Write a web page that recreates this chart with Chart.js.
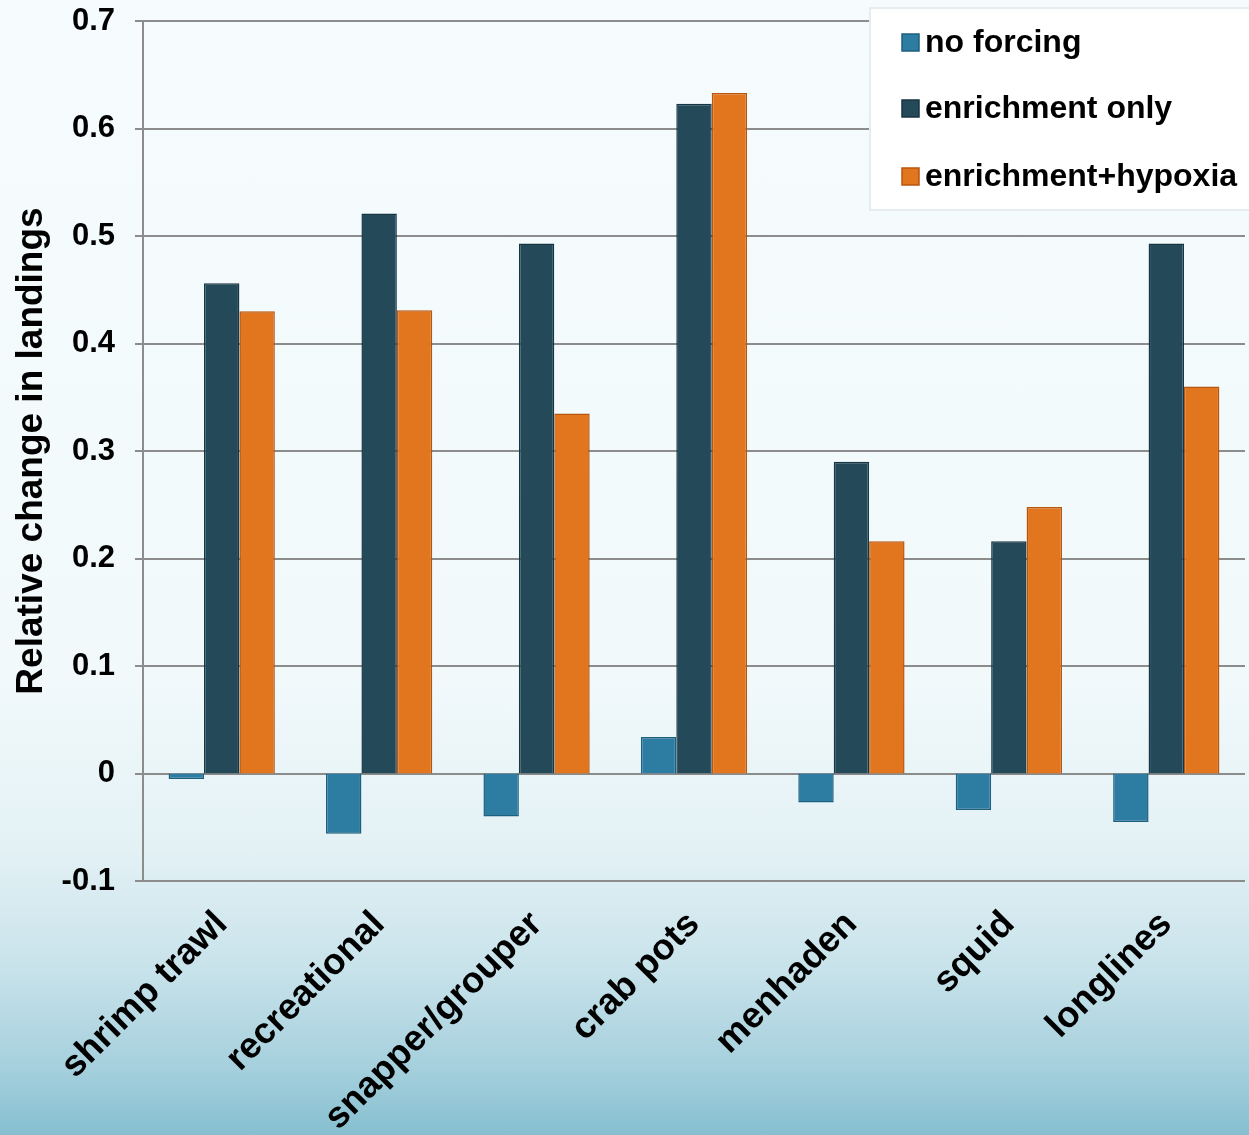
<!DOCTYPE html>
<html>
<head>
<meta charset="utf-8">
<title>Relative change in landings</title>
<script src="https://cdn.jsdelivr.net/npm/chart.js@4/dist/chart.umd.min.js"></script>
<style>
  html, body { margin: 0; padding: 0; }
  body {
    width: 1249px; height: 1135px; overflow: hidden;
    background: linear-gradient(to bottom,
      #f6fcfe 0%, #f1f9fb 60%, #e3f1f5 75%, #c9e3eb 85%, #a6d0dd 94%, #86bfd0 100%);
  }
  #wrap { position: relative; width: 1249px; height: 1135px; }
</style>
</head>
<body>
<div id="wrap"><canvas id="chart"></canvas></div>
<script>
// Fishery categories along the x axis
const categories = ['shrimp trawl', 'recreational', 'snapper/grouper', 'crab pots', 'menhaden', 'squid', 'longlines'];

// Relative change in landings for each scenario
const noForcing        = [-0.005, -0.056, -0.040, 0.034, -0.027, -0.034, -0.045];
const enrichmentOnly   = [0.456, 0.521, 0.493, 0.623, 0.290, 0.216, 0.493];
const enrichmentHypoxia= [0.430, 0.431, 0.335, 0.633, 0.216, 0.248, 0.360];

const seriesNames = ['no forcing', 'enrichment only', 'enrichment+hypoxia'];

// Y axis tick labels, top to bottom
const yTickLabels = ['0.7', '0.6', '0.5', '0.4', '0.3', '0.2', '0.1', '0', '-0.1'];

const FONT = "'Liberation Sans', Arial, Helvetica, sans-serif";
const GRID = '#8c8c8c';

// Legend box drawn on top of the plot, top-right corner
const boxLegend = {
  id: 'boxLegend',
  afterDraw(chart) {
    const ctx = chart.ctx;
    ctx.save();
    const x0 = 870, y0 = 8, w = 390, h = 202;
    ctx.fillStyle = '#ffffff';
    ctx.fillRect(x0, y0, w, h);
    ctx.strokeStyle = '#e6edf0';
    ctx.lineWidth = 2;
    ctx.strokeRect(x0, y0, w, h);
    const rows = [42, 108, 176];
    chart.data.datasets.forEach((ds, i) => {
      const cy = rows[i];
      ctx.fillStyle = ds.backgroundColor;
      ctx.fillRect(902, cy - 8, 17, 17);
      ctx.strokeStyle = ds.borderColor;
      ctx.lineWidth = 1.5;
      ctx.strokeRect(902, cy - 8, 17, 17);
      ctx.fillStyle = '#000';
      ctx.font = 'bold 32px ' + FONT;
      ctx.textBaseline = 'middle';
      ctx.textAlign = 'left';
      ctx.fillText(ds.label, 925, cy + 1);
    });
    ctx.restore();
  }
};

new Chart(document.getElementById('chart'), {
  type: 'bar',
  data: {
    labels: categories,
    datasets: [
      { label: seriesNames[0], data: noForcing,
        backgroundColor: '#2d7ca1', borderColor: '#1d5f7f', borderWidth: 1.5 },
      { label: seriesNames[1], data: enrichmentOnly,
        backgroundColor: '#244a5a', borderColor: '#173644', borderWidth: 1.5 },
      { label: seriesNames[2], data: enrichmentHypoxia,
        backgroundColor: '#e2761f', borderColor: '#b9560e', borderWidth: 1.5 }
    ]
  },
  options: {
    responsive: true,
    maintainAspectRatio: false,
    animation: false,
    layout: { padding: { top: 21, right: 4, left: 0, bottom: 0 } },
    datasets: { bar: { categoryPercentage: 0.675, barPercentage: 1.0 } },
    plugins: {
      legend: { display: false },
      tooltip: { enabled: false }
    },
    scales: {
      x: {
        grid: { display: false },
        border: { display: false },
        ticks: {
          color: '#000',
          font: { family: FONT, size: 36.5, weight: 'bold' },
          minRotation: 45, maxRotation: 45,
          autoSkip: false,
          padding: 14
        },
        afterFit(scale) {
          scale.height = 254;
          scale.paddingLeft = 0;
          scale.paddingRight = 0;
        }
      },
      y: {
        min: -0.1, max: 0.7,
        border: { display: true, color: GRID, width: 2 },
        grid: { color: GRID, lineWidth: 2, tickLength: 8, drawTicks: true },
        ticks: {
          stepSize: 0.1,
          color: '#000',
          padding: 20,
          font: { family: FONT, size: 31, weight: 'bold' },
          callback(v) {
            const idx = Math.round((0.7 - v) / 0.1);
            return yTickLabels[idx];
          }
        },
        title: {
          display: true,
          text: 'Relative change in landings',
          color: '#000',
          font: { family: FONT, size: 37, weight: 'bold' },
          padding: { top: 10, bottom: 0 }
        },
        afterFit(scale) {
          scale.width = 143;
          scale.paddingTop = 0;
          scale.paddingBottom = 0;
        }
      }
    }
  },
  plugins: [boxLegend]
});
</script>
</body>
</html>
